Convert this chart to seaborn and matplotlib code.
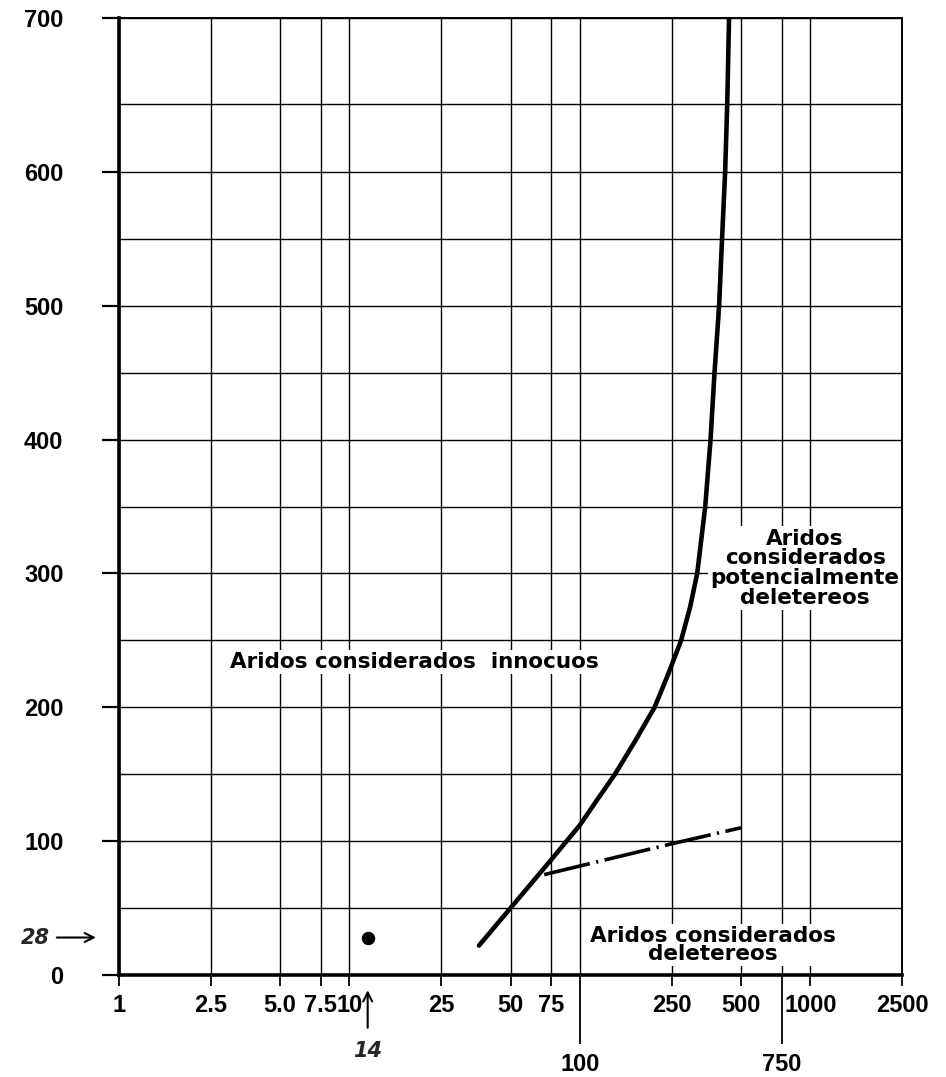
import numpy as np
import pandas as pd
import matplotlib
matplotlib.use("Agg")
import matplotlib.pyplot as plt
import matplotlib.transforms as mtransforms
from matplotlib.ticker import FixedLocator, FixedFormatter, NullFormatter
import seaborn as sns

# ---------------- data ----------------
curve_x = [36.5, 50, 75, 100, 119, 142, 174, 211, 242, 275, 301, 323, 350, 369,
           384, 402, 414, 427, 436, 444]
curve_y = [22, 50, 86, 112, 131, 150, 175, 200, 225, 250, 275, 300, 350, 400,
           450, 500, 550, 600, 650, 700]

limit_x = [70, 250, 500]
limit_y = [75, 98, 110]

sample_x = [12]
sample_y = [28]

x_major = [1, 2.5, 5, 7.5, 10, 25, 50, 75, 250, 500, 1000, 2500]
x_major_labels = ["1", "2.5", "5.0", "7.5", "10", "25", "50", "75", "250", "500", "1000", "2500"]
x_low = [100, 750]
x_low_labels = ["100", "750"]
y_major = [0, 100, 200, 300, 400, 500, 600, 700]
y_minor = [50, 150, 250, 350, 450, 550, 650]

label_innocuous = "Aridos considerados  innocuos"
label_deleterious = "Aridos considerados\ndeletereos"
label_potential = "Aridos\nconsiderados\npotencialmente\ndeletereos"

# hand-drawn y axis: top band slightly stretched
Y_VAL = [0, 600, 650, 700]
Y_POS = [0, 600, 651, 715]


def _pw(v, xs, ys):
    v = np.asarray(v, dtype=float)
    out = np.interp(v, xs, ys)
    lo_s = (ys[1] - ys[0]) / (xs[1] - xs[0])
    hi_s = (ys[-1] - ys[-2]) / (xs[-1] - xs[-2])
    out = np.where(v < xs[0], ys[0] + (v - xs[0]) * lo_s, out)
    out = np.where(v > xs[-1], ys[-1] + (v - xs[-1]) * hi_s, out)
    return out


def y_fwd(v):
    return _pw(v, Y_VAL, Y_POS)


def y_inv(v):
    return _pw(v, Y_POS, Y_VAL)


sns.set_theme(style="ticks")
plt.rcParams["font.family"] = ["DejaVu Sans"]

W, H = 946, 1077
fig = plt.figure(figsize=(W / 100, H / 100), dpi=100)
ax = fig.add_axes([119 / W, (H - 975) / H, (902 - 119) / W, (975 - 18) / H])

ax.set_xscale("log")
ax.set_yscale("function", functions=(y_fwd, y_inv))
ax.set_xlim(1, 2500)
ax.set_ylim(0, 700)

curve_df = pd.DataFrame({"x": curve_x, "y": curve_y})
limit_df = pd.DataFrame({"x": limit_x, "y": limit_y})
sample_df = pd.DataFrame({"x": sample_x, "y": sample_y})

sns.lineplot(data=curve_df, x="x", y="y", sort=False, ax=ax, color="black",
             lw=3.3, solid_capstyle="round", solid_joinstyle="round", zorder=5)
sns.lineplot(data=limit_df, x="x", y="y", sort=False, ax=ax, color="black",
             lw=2.6, dashes=False, zorder=5)
ax.lines[-1].set_dashes((13, 1.8, 0.6, 1.8))
ax.lines[-1].set_dash_capstyle("butt")
sns.scatterplot(data=sample_df, x="x", y="y", ax=ax, color="black", s=80,
                edgecolor="black", zorder=6)

# ticks
ax.xaxis.set_major_locator(FixedLocator(x_major))
ax.xaxis.set_major_formatter(FixedFormatter(x_major_labels))
ax.xaxis.set_minor_locator(FixedLocator(x_low))
ax.xaxis.set_minor_formatter(FixedFormatter(x_low_labels))
ax.yaxis.set_major_locator(FixedLocator(y_major))
ax.yaxis.set_major_formatter(FixedFormatter([str(v) for v in y_major]))
ax.yaxis.set_minor_locator(FixedLocator(y_minor))
ax.yaxis.set_minor_formatter(NullFormatter())

tick_family = ["Liberation Sans Narrow", "Liberation Sans", "DejaVu Sans"]
ax.tick_params(axis="x", which="major", direction="out", length=8, width=1.3,
               color="black", pad=6, labelsize=17)
ax.tick_params(axis="x", which="minor", direction="out", length=50, width=1.3,
               color="black", pad=6, labelsize=17)
ax.tick_params(axis="y", which="major", direction="out", length=12, width=1.6,
               color="black", pad=28, labelsize=17)
ax.tick_params(axis="y", which="minor", length=0)
for lab in ax.get_xticklabels(which="both") + ax.get_yticklabels():
    lab.set_fontfamily(tick_family)
    lab.set_fontweight("bold")
    lab.set_color("black")

ax.grid(True, which="both", axis="both", color="black", lw=1.0)
ax.set_axisbelow(True)
for side, lw in [("left", 2.6), ("bottom", 2.6), ("top", 1.4), ("right", 1.4)]:
    ax.spines[side].set_visible(True)
    ax.spines[side].set_color("black")
    ax.spines[side].set_linewidth(lw)
    ax.spines[side].set_zorder(4)
ax.set_xlabel("")
ax.set_ylabel("")

# region labels
box = dict(facecolor="white", edgecolor="none", pad=1.5)
lab_kw = dict(ha="center", va="center", fontsize=15.5, fontweight="bold",
              color="black", bbox=box, zorder=3)
ax.text(19.1, 234, label_innocuous, **lab_kw)
ax.text(378, 22.5, label_deleterious, linespacing=0.85, **lab_kw)
ax.text(949, 304, label_potential, linespacing=0.98, **lab_kw)

# sample annotations
yblend = mtransforms.blended_transform_factory(ax.transAxes, ax.transData)
ax.text(-0.107, sample_y[0], "28", transform=yblend, ha="center", va="center",
        fontsize=15, fontstyle="italic", fontweight="bold", clip_on=False)
ax.annotate("", xy=(-0.026, sample_y[0]), xycoords=yblend,
            xytext=(-0.083, sample_y[0]), textcoords=yblend,
            arrowprops=dict(arrowstyle="->", color="black", lw=1.5,
                            mutation_scale=16))
xblend = mtransforms.blended_transform_factory(ax.transData, ax.transAxes)
ax.annotate("", xy=(sample_x[0], -0.013), xycoords=xblend,
            xytext=(sample_x[0], -0.058), textcoords=xblend,
            arrowprops=dict(arrowstyle="->", color="black", lw=1.5,
                            mutation_scale=16))
ax.text(sample_x[0], -0.079, "14", transform=xblend, ha="center", va="center",
        fontsize=15, fontstyle="italic", fontweight="bold", clip_on=False)

fig.savefig("out.png", dpi=100, facecolor="white")
